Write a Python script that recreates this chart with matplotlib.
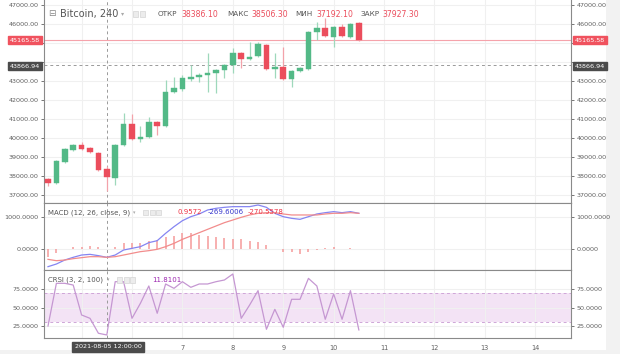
import matplotlib
matplotlib.use("Agg")
import matplotlib.pyplot as plt
import matplotlib.dates as mdates
import matplotlib.ticker as mticker
from matplotlib.patches import Rectangle
from datetime import datetime, timedelta

# ---------------- data ----------------
start_time = datetime(2021, 8, 4, 8, 0)
bar_hours = 4

opens = [37842, 37632, 38737, 39368, 39632, 39474, 39211, 38386.10, 37895, 39632,
         40737, 39947, 40053, 40842, 40632, 42421, 42579, 43105, 43211, 43316,
         43421, 43579, 43842, 44474, 44158, 44316, 44895, 43632, 43737, 43105,
         43526, 43632, 45579, 45789, 45316, 45842, 45316, 46053]
highs = [37880, 38850, 39450, 39680, 39790, 39520, 39280, 38506.30, 39680, 41316,
         41263, 40632, 41105, 40900, 43053, 43211, 43300, 43842, 43400, 44474,
         43650, 43900, 44737, 44550, 45053, 45053, 44950, 44474, 44789, 43580,
         43750, 45650, 46105, 46316, 45900, 46000, 46053, 46100]
lows = [37450, 37580, 38700, 39330, 39380, 39200, 38250, 37192.10, 37527, 39600,
        39900, 39790, 40000, 40158, 40600, 42350, 42500, 43000, 42960, 42421,
        42368, 43158, 43421, 43684, 44100, 44250, 43580, 43158, 43050, 42684,
        43450, 43580, 45158, 45300, 44789, 45300, 45250, 45100]
closes = [37632, 38790, 39421, 39632, 39421, 39263, 38316, 37927.30, 39632, 40737,
          39947, 40053, 40842, 40632, 42421, 42632, 43158, 43211, 43316, 43421,
          43579, 43842, 44474, 44158, 44263, 44947, 43632, 43737, 43105, 43526,
          43684, 45579, 45789, 45368, 45842, 45368, 46000, 45165.58]

macd_line = [-552, -469, -344, -260, -188, -167, -208, -260, -188, -31,
             21, 73, 198, 260, 490, 698, 885, 1010, 1094, 1219,
             1271, 1302, 1323, 1323, 1323, 1375, 1302, 1115, 1010, 958,
             927, 1010, 1094, 1135, 1167, 1135, 1167, 1115]
signal_line = [-323, -365, -344, -302, -271, -240, -240, -260, -240, -188,
               -135, -83, -52, -10, 73, 177, 302, 406, 510, 615,
               719, 823, 906, 990, 1063, 1115, 1135, 1135, 1094, 1063,
               1063, 1063, 1063, 1094, 1115, 1115, 1135, 1115]
macd_hist = [-240, -135, 0, 52, 73, 94, 52, 0, 52, 177,
             198, 198, 260, 281, 365, 406, 490, 490, 438, 406,
             365, 333, 302, 302, 260, 229, 125, 0, -83, -83,
             -156, -83, -31, 21, 73, 0, 21, 0]
crsi = [25.0, 82.7, 82.7, 80.4, 39.9, 35.4, 15.2, 12.9, 84.9, 84.9,
        35.4, 55.7, 79.1, 42.2, 81.8, 75.9, 84.9, 77.3, 81.8, 81.8,
        84.9, 87.2, 95.3, 35.4, 53.4, 72.8, 20.6, 47.6, 23.3, 61.1,
        61.1, 89.4, 79.1, 34.1, 68.3, 34.1, 72.8, 19.7]

price_ticks = [37000, 38000, 39000, 40000, 41000, 42000, 43000, 44000, 45000, 46000, 47000]
macd_ticks = [0, 1000]
crsi_ticks = [25, 50, 75]
crsi_band = (30, 70)
last_price = 45165.58
cross_price = 43866.94
cross_time = datetime(2021, 8, 5, 12, 0)

header_name = "Bitcoin, 240"
header_ohlc = [("ОТКР", "38386.10"), ("МАКС", "38506.30"), ("МИН", "37192.10"), ("ЗАКР", "37927.30")]
macd_title = "MACD (12, 26, close, 9)"
macd_vals = ["0.9572", "-269.6006", "-270.5578"]
crsi_title = "CRSI (3, 2, 100)"
crsi_val = "11.8101"

# ---------------- style ----------------
GREEN = "#53b987"
RED = "#eb4d5c"
GREEN_W = "#9ed8bb"
RED_W = "#f3a2aa"
GRID = "#f0f0f0"
AX = "#8a8a8a"
TXT = "#606060"
BLUE_L = "#8585f2"
RED_L = "#f28c8c"
HIST_C = "#f59a9a"
PURPLE = "#c597d2"
TICK_FS = 4.6

W, H = 620, 354
fig = plt.figure(figsize=(W / 100, H / 100), dpi=100)
fig.patch.set_facecolor("white")

def fx(x):
    return x / W

def fy(y):
    return 1 - y / H

L, R = 44, 571
def add_axes(top, bottom):
    return fig.add_axes([fx(L), fy(bottom), fx(R - L), (bottom - top) / H])

ax = add_axes(0, 203)
axm = add_axes(203, 270)
axc = add_axes(270, 338)

times = [start_time + timedelta(hours=bar_hours * i) for i in range(len(opens))]
xs = mdates.date2num(times)
bw = bar_hours / 24 * 0.66

# candles
for x, o, h, l, c in zip(xs, opens, highs, lows, closes):
    up = c >= o
    col = GREEN if up else RED
    wcol = GREEN_W if up else RED_W
    ax.vlines(x, l, h, color=wcol, lw=0.9, zorder=2)
    lo, hi = min(o, c), max(o, c)
    ax.add_patch(Rectangle((x - bw / 2, lo), bw, max(hi - lo, 25), facecolor=col,
                           edgecolor=col, lw=0.3, zorder=3))

xmin = mdates.date2num(start_time - timedelta(hours=1.9))
xmax = mdates.date2num(start_time + timedelta(hours=249))
cx = mdates.date2num(cross_time)

def day_fmt(v, pos):
    d = mdates.num2date(v)
    # day labels under the crosshair date box are hidden, as in the reference
    if abs(v - cx) < 1.0:
        return ""
    return str(d.day)

for a in (ax, axm, axc):
    a.set_xlim(xmin, xmax)
    a.xaxis.set_major_locator(mdates.DayLocator())
    a.xaxis.set_major_formatter(mticker.FuncFormatter(day_fmt))
    a.grid(True, color=GRID, lw=0.8, zorder=0)
    a.set_axisbelow(True)
    for s in a.spines.values():
        s.set_color(AX)
        s.set_linewidth(0.8)
    a.tick_params(axis="both", which="both", labelsize=TICK_FS, colors=TXT, length=2.5,
                  width=0.6, pad=1.5, labelleft=True, labelright=True, left=True, right=True)
    a.tick_params(axis="x", length=0, labelbottom=False, bottom=False)
    a.axvline(cx, color="#9a9a9a", lw=0.7, ls=(0, (3, 3)), zorder=1)

def price_fmt(v, pos):
    if abs(v - last_price) < 600 or abs(v - cross_price) < 600:
        return ""
    return f"{v:.2f}"

ax.spines["top"].set_visible(False)
ax.set_ylim(47000 - 198 / 19 * 1000, 47000 + 5 / 19 * 1000)
ax.set_yticks(price_ticks)
ax.yaxis.set_major_formatter(mticker.FuncFormatter(price_fmt))
ax.axhline(last_price, color="#f5a3ab", lw=0.8, zorder=1)
ax.axhline(cross_price, color="#9a9a9a", lw=0.7, ls=(0, (3, 3)), zorder=1)

# MACD
axm.set_ylim(-656, 1437)
axm.set_yticks(macd_ticks)
axm.yaxis.set_major_formatter(mticker.FormatStrFormatter("%.4f"))
axm.vlines(xs, 0, macd_hist, color=HIST_C, lw=1.1, zorder=2)
axm.plot(xs, macd_line, color=BLUE_L, lw=0.9, zorder=3)
axm.plot(xs, signal_line, color=RED_L, lw=0.9, zorder=3)

# CRSI
axc.set_ylim(8.8, 100.7)
axc.set_yticks(crsi_ticks)
axc.yaxis.set_major_formatter(mticker.FormatStrFormatter("%.4f"))
axc.axhspan(crsi_band[0], crsi_band[1], color="#f3e3f5", zorder=0.5, lw=0)
for lv in crsi_band:
    axc.axhline(lv, color="#cfa6d8", lw=0.7, ls=(0, (3, 3)), zorder=1)
axc.plot(xs, crsi, color=PURPLE, lw=0.9, zorder=3)

axc.tick_params(axis="x", labelbottom=True, labelsize=TICK_FS + 0.2, colors=TXT, pad=5)

# ---------- price labels ----------
def tag(x, y, s, bg, ha="left"):
    fig.text(fx(x), fy(y), s, fontsize=TICK_FS, color="white", ha=ha, va="center",
             bbox=dict(boxstyle="square,pad=0.3", fc=bg, ec=bg), zorder=10)

tag(575, 40, f"{last_price:.2f}", "#f0525e")
tag(575, 66, f"{cross_price:.2f}", "#4b4b4b")
tag(40, 40, f"{last_price:.2f}", "#f0525e", ha="right")
tag(40, 66, f"{cross_price:.2f}", "#4b4b4b", ha="right")
fig.text(fx(108), fy(347), cross_time.strftime("%Y-%m-%d %H:%M:%S"), fontsize=TICK_FS,
         color="white", ha="center", va="center",
         bbox=dict(boxstyle="square,pad=0.4", fc="#4b4b4b", ec="#4b4b4b"), zorder=10)

# ---------- headers ----------
def icons(x0, y, n=3, gap=6.5):
    for k in range(n):
        fig.add_artist(Rectangle((fx(x0 + k * gap), fy(y + 2.7)), fx(5.4), 5.4 / H,
                                 facecolor="#ececec", edgecolor="#d4d4d4", lw=0.5,
                                 transform=fig.transFigure, zorder=9))

fig.text(fx(48), fy(14), "⊟", fontsize=6.5, color="#888888", va="center", ha="left")
fig.text(fx(60), fy(14), header_name, fontsize=7, color="#555555", va="center", ha="left")
fig.text(fx(121), fy(14), "▾", fontsize=4.5, color="#aaaaaa", va="center", ha="left")
icons(133, 14, n=2, gap=7)
hx = [158, 227, 295, 360]
vx = [181, 251, 316, 382]
for (lab, val), a, b in zip(header_ohlc, hx, vx):
    fig.text(fx(a), fy(14.5), lab, fontsize=5.2, color="#555555", va="center", ha="left")
    fig.text(fx(b), fy(14.5), val, fontsize=5.6, color=RED, va="center", ha="left")

LEG_FS = 5.0
fig.text(fx(48), fy(212.5), macd_title, fontsize=LEG_FS, color="#555555", va="center", ha="left")
fig.text(fx(133), fy(212.5), "▾", fontsize=3.5, color="#aaaaaa", va="center", ha="left")
icons(143, 212.5)
fig.text(fx(178), fy(212.5), macd_vals[0], fontsize=LEG_FS, color="#ee3344", va="center", ha="left")
fig.text(fx(208), fy(212.5), macd_vals[1], fontsize=LEG_FS, color="#3333cc", va="center", ha="left")
fig.text(fx(248), fy(212.5), macd_vals[2], fontsize=LEG_FS, color="#ee3344", va="center", ha="left")

fig.text(fx(48), fy(280), crsi_title, fontsize=LEG_FS, color="#555555", va="center", ha="left")
fig.text(fx(107), fy(280), "▾", fontsize=3.5, color="#aaaaaa", va="center", ha="left")
icons(117, 280)
fig.text(fx(152), fy(280), crsi_val, fontsize=LEG_FS, color="#9c27b0", va="center", ha="left")

# page margins
fig.add_artist(Rectangle((fx(606), 0), fx(14), 1, facecolor="#f2f2f2", lw=0,
                         transform=fig.transFigure, zorder=-1))
fig.add_artist(Rectangle((0, 0), 1, 4 / H, facecolor="#f2f2f2", lw=0,
                         transform=fig.transFigure, zorder=-1))

fig.savefig("out.png", dpi=100, facecolor="white")
